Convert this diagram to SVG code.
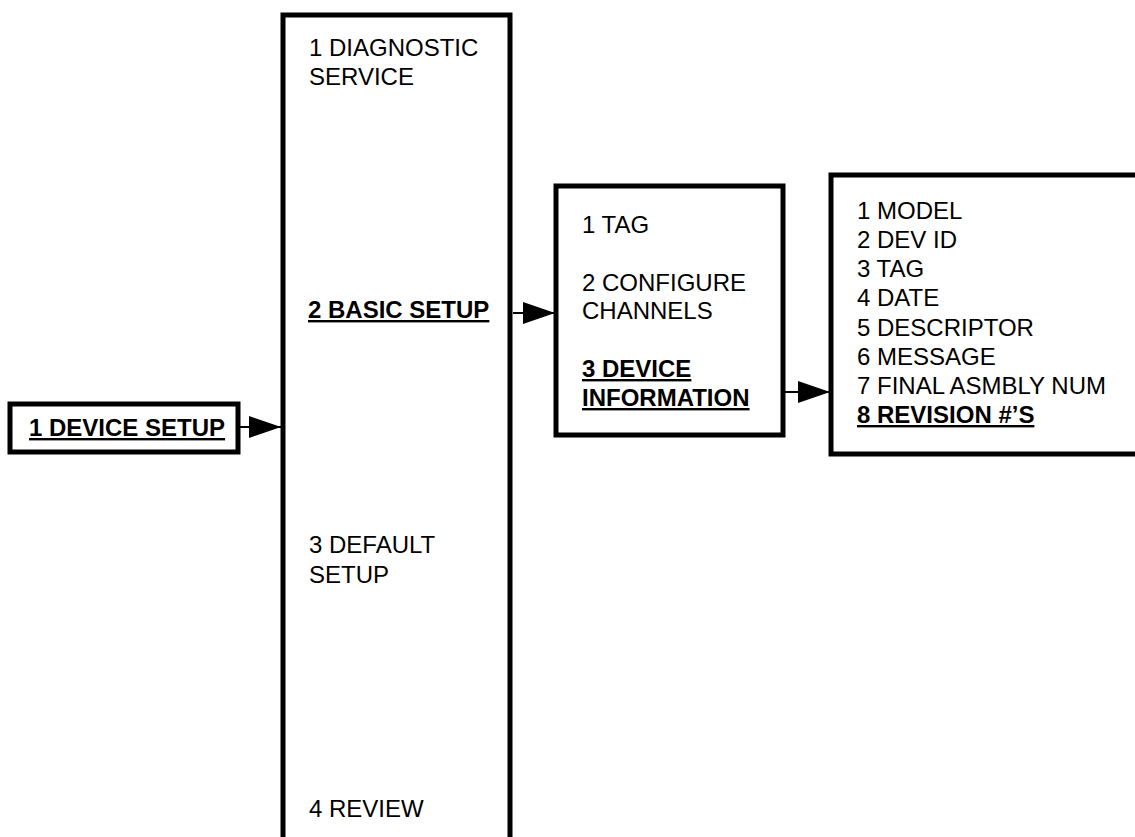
<svg xmlns="http://www.w3.org/2000/svg" width="1135" height="837" viewBox="0 0 1135 837">
<style>
.box{fill:#fff;stroke:#000;stroke-width:5}
.t{font-family:"Liberation Sans",Arial,sans-serif;font-size:24px;fill:#000}
.b{font-weight:bold;text-decoration:underline}
.c{stroke:#000;stroke-width:2;fill:none}
</style>
<defs>
<marker id="ah" markerUnits="userSpaceOnUse" markerWidth="32" markerHeight="22" refX="32" refY="11" orient="auto">
<path d="M0 0 L32 11 L0 22 Z" fill="#000"/>
</marker>
</defs>
<rect width="1135" height="837" fill="#fff"/>
<g id="connectors">
<path class="c" d="M239 427 H281" marker-end="url(#ah)"/>
<path class="c" d="M513 313 H555" marker-end="url(#ah)"/>
<path class="c" d="M785 392 H830" marker-end="url(#ah)"/>
</g>
<g id="device-setup">
<rect class="box" x="10" y="404" width="228" height="48"/>
<text class="t b" x="29" y="436">1 DEVICE SETUP</text>
</g>
<g id="menu-main">
<path class="box" d="M283 845 V15 H510 V845"/>
<text class="t" x="309" y="56">1 DIAGNOSTIC</text>
<text class="t" x="309" y="85">SERVICE</text>
<text class="t b" x="308" y="318">2 BASIC SETUP</text>
<text class="t" x="309" y="553">3 DEFAULT</text>
<text class="t" x="309" y="583">SETUP</text>
<text class="t" x="309" y="817">4 REVIEW</text>
</g>
<g id="basic-setup">
<rect class="box" x="556" y="186" width="227" height="249"/>
<text class="t" x="582" y="233">1 TAG</text>
<text class="t" x="582" y="291">2 CONFIGURE</text>
<text class="t" x="582" y="319">CHANNELS</text>
<text class="t b" x="582" y="377">3 DEVICE</text>
<text class="t b" x="582" y="406">INFORMATION</text>
</g>
<g id="device-information">
<path class="box" d="M1140 175 H831 V454 H1140"/>
<text class="t" x="857" y="219">1 MODEL</text>
<text class="t" x="857" y="248">2 DEV ID</text>
<text class="t" x="857" y="277">3 TAG</text>
<text class="t" x="857" y="306">4 DATE</text>
<text class="t" x="857" y="336">5 DESCRIPTOR</text>
<text class="t" x="857" y="365">6 MESSAGE</text>
<text class="t" x="857" y="394">7 FINAL ASMBLY NUM</text>
<text class="t b" x="857" y="423">8 REVISION #’S</text>
</g>
</svg>
